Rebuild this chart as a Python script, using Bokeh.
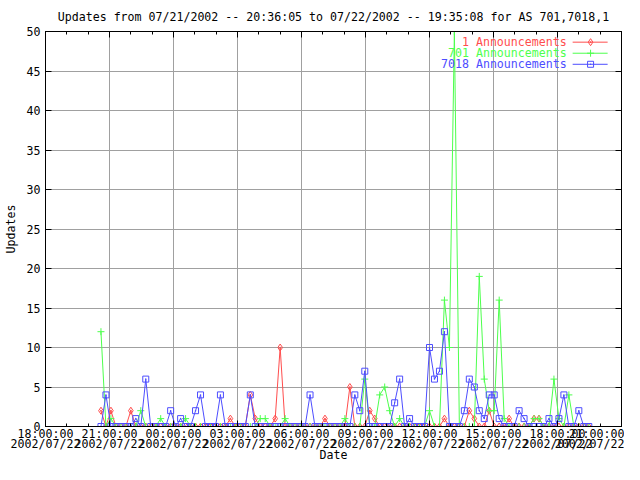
from bokeh.plotting import figure
from bokeh.models import FixedTicker, LinearAxis, Label, Range1d
from bokeh.embed import file_html
from bokeh.resources import INLINE

# ---------------- data ----------------
times = [
    "20:36", "20:50", "21:04", "21:18", "21:32", "21:46", "22:00", "22:14", "22:28", "22:42",
    "22:56", "23:10", "23:24", "23:38", "23:52", "00:06", "00:20", "00:34", "00:48", "01:02",
    "01:16", "01:30", "01:44", "01:58", "02:12", "02:26", "02:40", "02:54", "03:08", "03:22",
    "03:36", "03:50", "04:04", "04:18", "04:32", "04:46", "05:00", "05:14", "05:28", "05:42",
    "05:56", "06:10", "06:24", "06:38", "06:52", "07:06", "07:20", "07:34", "07:48", "08:02",
    "08:16", "08:30", "08:44", "08:58", "09:12", "09:26", "09:40", "09:54", "10:08", "10:22",
    "10:36", "10:50", "11:04", "11:18", "11:32", "11:46", "12:00", "12:14", "12:28", "12:42",
    "12:56", "13:10", "13:24", "13:38", "13:52", "14:06", "14:20", "14:34", "14:48", "15:02",
    "15:16", "15:30", "15:44", "15:58", "16:12", "16:26", "16:40", "16:54", "17:08", "17:22",
    "17:36", "17:50", "18:04", "18:18", "18:32", "18:46", "19:00", "19:14", "19:28",
]

as1 = [
    2, 0, 2, 0, 0, 0, 2, 0, 0, 0,
    0, 0, 0, 0, 0, 0, 0, 0, 0, 0,
    0, 0, 0, 0, 0, 0, 1, 0, 0, 0,
    4, 1, 0, 0, 0, 1, 10, 0, 0, 0,
    0, 0, 0, 0, 0, 1, 0, 0, 0, 0,
    5, 0, 0, 0, 2, 1, 0, 0, 0, 0,
    0, 0, 0, 0, 0, 0, 0, 0, 0, 1,
    0, 0, 0, 0, 2, 1, 0, 0, 2, 0,
    0, 0, 1, 0, 0, 0, 0, 1, 1, 0,
    0, 0, 0, 0, 0, 0, 0, 0, 0,
]

as701 = [
    12, 0, 1, 0, 0, 0, 0, 0, 2, 0,
    0, 0, 1, 0, 0, 0, 0, 1, 0, 0,
    0, 0, 0, 0, 0, 0, 0, 0, 0, 0,
    0, 0, 1, 1, 0, 0, 0, 1, 0, 0,
    0, 0, 0, 0, 0, 0, 0, 0, 0, 1,
    0, 0, 0, 6, 0, 0, 4, 5, 2, 0,
    1, 0, 0, 0, 0, 0, 2, 0, 0, 16,
    10, 50, 0, 0, 0, 0, 19, 6, 2, 2,
    16, 1, 0, 0, 0, 0, 0, 1, 1, 0,
    0, 6, 1, 0, 4, 0, 0, 0, 0,
]

as7018 = [
    0, 4, 0, 0, 0, 0, 0, 1, 0, 6,
    0, 0, 0, 0, 2, 0, 1, 0, 0, 2,
    4, 0, 0, 0, 4, 0, 0, 0, 0, 0,
    4, 0, 0, 0, 0, 0, 0, 0, 0, 0,
    0, 0, 4, 0, 0, 0, 0, 0, 0, 0,
    0, 4, 2, 7, 0, 0, 0, 0, 0, 3,
    6, 0, 1, 0, 0, 0, 10, 6, 7, 12,
    0, 0, 0, 2, 6, 5, 2, 1, 4, 4,
    1, 0, 0, 0, 2, 1, 0, 0, 0, 0,
    1, 0, 1, 4, 0, 0, 2, 0, 0,
]

series_names = ["1 Announcements", "701 Announcements", "7018 Announcements"]

tick_times = ["18:00:00", "21:00:00", "00:00:00", "03:00:00", "06:00:00",
              "09:00:00", "12:00:00", "15:00:00", "18:00:00", "21:00:00"]
tick_dates = ["2002/07/22", "2002/07/22", "2002/07/22", "2002/07/22", "2002/07/22",
              "2002/07/22", "2002/07/22", "2002/07/22", "2002/07/22", "2002/07/22"]
y_ticks = [0, 5, 10, 15, 20, 25, 30, 35, 40, 45, 50]

title_text = "Updates from 07/21/2002 -- 20:36:05 to 07/22/2002 -- 19:35:08 for AS 701,7018,1"

# ---------------- helpers ----------------
# hours since 18:00 on 07/21; a new day starts whenever the clock wraps
xs = []
day = 0
prev = None
for t in times:
    h, m = t.split(":")
    v = int(h) + int(m) / 60.0
    if prev is not None and v < prev:
        day += 1
    prev = v
    xs.append(v + 24 * day - 18)

FONT = "DejaVu Sans Mono"
FSIZE = "11.6px"
RED = "#ff4d4d"
GREEN = "#4dff4d"
BLUE = "#4d4dff"
GRID = "#a0a0a0"

p = figure(width=624, height=464, x_range=Range1d(0, 27), y_range=Range1d(0, 50),
           output_backend="svg", toolbar_location=None,
           min_border_left=44, min_border_right=3, min_border_top=30, min_border_bottom=20)
p.background_fill_color = "white"
p.border_fill_color = "white"
p.outline_line_color = "black"
p.outline_line_alpha = 1.0

p.title.text = title_text
p.title.align = "center"
p.title.text_font = FONT
p.title.text_font_size = FSIZE
p.title.text_font_style = "normal"
p.title.text_color = "black"
p.title.standoff = 15

major_x = [3 * i for i in range(len(tick_times))]
minor_x = list(range(0, 28))

# time labels on the main bottom axis
p.xaxis.ticker = FixedTicker(ticks=major_x, minor_ticks=minor_x)
p.xaxis.major_label_overrides = {major_x[i]: tick_times[i] for i in range(len(tick_times))}
p.yaxis.ticker = FixedTicker(ticks=y_ticks)

for ax in (p.xaxis[0], p.yaxis[0]):
    ax.major_tick_in = 6
    ax.major_tick_out = 0
    ax.minor_tick_in = 3
    ax.minor_tick_out = 0
    ax.axis_line_color = "black"
    ax.major_label_text_font = FONT
    ax.major_label_text_font_size = FSIZE
    ax.major_label_text_color = "black"
    ax.axis_label_text_font = FONT
    ax.axis_label_text_font_size = FSIZE
    ax.axis_label_text_font_style = "normal"
    ax.axis_label_text_color = "black"
p.xaxis.major_label_standoff = 0
p.yaxis.major_label_standoff = 5
p.yaxis.minor_tick_line_color = None
p.yaxis.axis_label = "Updates"
p.yaxis.axis_label_standoff = 6

# second row of bottom labels: dates, plus the "Date" axis title
date_ax = LinearAxis(ticker=FixedTicker(ticks=major_x),
                     major_label_overrides={major_x[i]: tick_dates[i] for i in range(len(tick_dates))},
                     axis_line_color=None, major_tick_line_color=None, minor_tick_line_color=None,
                     major_tick_in=0, major_tick_out=0, minor_tick_in=0, minor_tick_out=0,
                     major_label_standoff=-7,
                     major_label_text_font=FONT, major_label_text_font_size=FSIZE,
                     major_label_text_color="black",
                     axis_label="Date", axis_label_standoff=-6,
                     axis_label_text_font=FONT, axis_label_text_font_size=FSIZE,
                     axis_label_text_font_style="normal", axis_label_text_color="black")
p.add_layout(date_ax, "below")

# mirrored tick axes (top and right) without labels
top_ax = LinearAxis(ticker=FixedTicker(ticks=major_x, minor_ticks=minor_x),
                    major_tick_in=6, major_tick_out=0, minor_tick_in=3, minor_tick_out=0,
                    major_label_text_font_size="0px", major_label_text_color=None,
                    major_label_standoff=0, axis_line_color="black")
right_ax = LinearAxis(ticker=FixedTicker(ticks=y_ticks),
                      major_tick_in=6, major_tick_out=0,
                      major_label_text_font_size="0px", major_label_text_color=None,
                      major_label_standoff=0,
                      minor_tick_line_color=None, axis_line_color="black")
p.add_layout(top_ax, "above")
p.add_layout(right_ax, "right")

p.xgrid.ticker = FixedTicker(ticks=major_x[1:-1])
p.ygrid.ticker = FixedTicker(ticks=y_ticks[1:-1])
p.xgrid.grid_line_color = GRID
p.ygrid.grid_line_color = GRID
p.xgrid.grid_line_width = 1
p.ygrid.grid_line_width = 1

# ---------------- series ----------------
styles = [(as1, RED, "diamond_dot", 7), (as701, GREEN, "cross", 7), (as7018, BLUE, "square_dot", 6)]
for vals, col, mk, sz in styles:
    p.line(xs, vals, line_color=col, line_width=1)
    p.scatter(xs, vals, marker=mk, size=sz, line_color=col, fill_color=None, line_width=1)

# ---------------- legend (text left, sample right) ----------------
leg_rows_y = [48.65, 47.25, 45.85]
leg_text_x = 24.43
leg_line_x0, leg_line_x1, leg_mark_x = 24.71, 26.35, 25.55
for (vals, col, mk, sz), name, ly in zip(styles, series_names, leg_rows_y):
    p.add_layout(Label(x=leg_text_x, y=ly, text=name, text_align="right", text_baseline="middle",
                       text_font=FONT, text_font_size=FSIZE, text_color=col))
    p.line([leg_line_x0, leg_line_x1], [ly, ly], line_color=col, line_width=1)
    p.scatter([leg_mark_x], [ly], marker=mk, size=sz, line_color=col, fill_color=None)

open("out.html", "w").write(file_html(p, INLINE))
